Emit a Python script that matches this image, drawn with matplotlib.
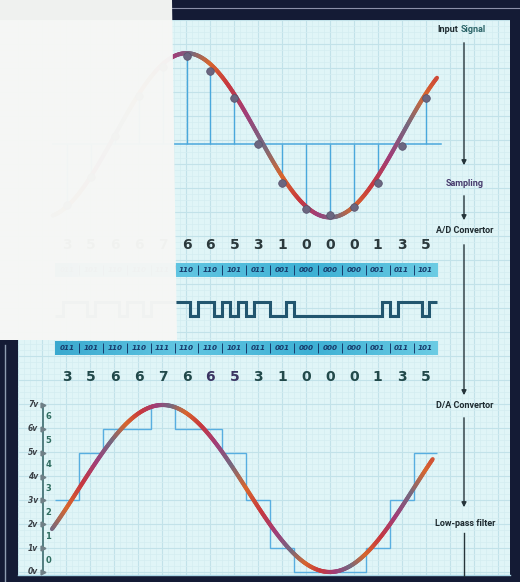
import numpy as np
import matplotlib.pyplot as plt
from matplotlib.collections import LineCollection
from matplotlib.colors import LinearSegmentedColormap
from matplotlib.patches import Polygon

W, H = 520, 582

# sample index 0..15, quantised codes (same row shown at A/D and D/A)
SAMPLE_IDX = np.arange(16)
CODES = [3, 5, 6, 6, 7, 6, 6, 5, 3, 1, 0, 0, 0, 1, 3, 5]
# input samples in volts (first five sit under the white card)
TOP_SAMPLES = [0.4, 1.6, 3.3, 5.0, 6.2, 6.7, 6.05, 4.9, 3.0, 1.35, 0.25, 0.0, 0.34, 1.35, 2.9, 4.9]
# input sine: mid level, amplitude, period (samples), trough position
TOP_MID, TOP_AMP, TOP_PERIOD, TOP_TROUGH = 3.35, 3.45, 12.0, 11.0
# reconstructed sine after low-pass filter
OUT_MID, OUT_AMP, OUT_PERIOD, OUT_PEAK = 3.5, 3.5, 14.0, 4.0
VOLT_LABELS = ['0v', '1v', '2v', '3v', '4v', '5v', '6v', '7v']
STAGES = ['Input Signal', 'Sampling', 'A/D Convertor', 'D/A Convertor', 'Low-pass filter']

NAVY = '#141b35'
BG = '#e0f5f7'
INK = '#1f2b30'
CURVE_CMAP = LinearSegmentedColormap.from_list(
    'ink', ['#d8662e', '#c8383e', '#a13d78', '#75687f', '#d8662e'])
BAR_CMAP = LinearSegmentedColormap.from_list('bar', ['#3aa9cf', '#62c6e2', '#3db0d4', '#6ccce4'])

# horizontal layout: sample 0 at x=67 px, 23.9 px per sample
X0, DX = 67, 23.9
XLIM = ((8 - X0) / DX, (510 - X0) / DX)

fig = plt.figure(figsize=(W / 100, H / 100), dpi=100, facecolor=NAVY)


def px_axes(top, bottom, left=8, right=510):
    ax = fig.add_axes([left / W, 1 - bottom / H, (right - left) / W, (bottom - top) / H])
    ax.set_axis_off()
    ax.patch.set_alpha(0)
    return ax


def gradient_line(ax, x, y, lw=3.0, cycle=3.0):
    pts = np.column_stack([x, y]).reshape(-1, 1, 2)
    segs = np.concatenate([pts[:-1], pts[1:]], axis=1)
    lc = LineCollection(segs, cmap=CURVE_CMAP, linewidth=lw, capstyle='round', zorder=4)
    lc.set_array((x[:-1] / cycle) % 1.0)
    lc.set_clim(0, 1)
    ax.add_collection(lc)


# background: cyan graph paper inside a navy frame
bg = px_axes(0, H, 0, W)
bg.set_xlim(0, W)
bg.set_ylim(H, 0)
paper = Polygon([(0, 20), (510, 20), (510, 576), (18, 576), (18, 340), (0, 340)],
                closed=True, facecolor=BG, edgecolor='none', zorder=0)
bg.add_patch(paper)
for gx in np.arange(18, 510, 6):
    major = (gx - 18) % 24 == 0
    ln, = bg.plot([gx, gx], [20, 576], color='#c2e2e9' if major else '#d4edf1',
                  lw=0.8 if major else 0.5, zorder=1)
    ln.set_clip_path(paper)
for gy in np.arange(20, 576, 6):
    major = (gy - 20) % 24 == 0
    ln, = bg.plot([0, 510], [gy, gy], color='#c2e2e9' if major else '#d4edf1',
                  lw=0.8 if major else 0.5, zorder=1)
    ln.set_clip_path(paper)
bg.plot([172, 520], [8, 8], color='#8b90a8', lw=0.8, zorder=2)
bg.plot([5, 5], [345, 582], color='#8e9cb0', lw=1.0, zorder=2)
bg.plot([18, 510], [575, 575], color='#a9d6e6', lw=1.0, zorder=2)

# top panel: input signal and sampling
top = px_axes(20, 232)
top.set_xlim(*XLIM)
top.set_ylim(-(232 - 215) / 23.8, (215 - 20) / 23.8)
top.plot([-0.6, 15.65], [3, 3], color='#4aa8dc', lw=1.1, zorder=2)
top.vlines(SAMPLE_IDX, 3, TOP_SAMPLES, color='#4aa8dc', lw=1.0, zorder=2)
xt = np.linspace(-0.6, 15.48, 400)
yt = TOP_MID - TOP_AMP * np.cos(2 * np.pi * (xt - TOP_TROUGH) / TOP_PERIOD)
gradient_line(top, xt, yt)
top.plot(SAMPLE_IDX, TOP_SAMPLES, 'o', ms=5.5, color='#6b6680', mec='#55506a', mew=0.5, zorder=5)

# middle: codes, binary words and serial pulse train
mid = px_axes(232, 390)
mid.set_xlim(*XLIM)
words = [f'{c:03b}' for c in CODES]
for i, c in zip(SAMPLE_IDX, CODES):
    mid.text(i, 245, str(c), ha='center', va='center', fontsize=10, fontweight='bold', color='#2b393c')
    mid.text(i, 377, str(c), ha='center', va='center', fontsize=10, fontweight='bold',
             color='#3b3462' if i in (6, 7) else '#22494a')

for yc in (270, 348):
    mid.imshow(np.linspace(0, 1, 256)[None, :], extent=(-0.5, 15.5, yc + 7, yc - 7),
               cmap=BAR_CMAP, aspect='auto', zorder=2)
    for i, w in zip(SAMPLE_IDX, words):
        mid.text(i, yc, w, ha='center', va='center', fontsize=5.2, fontweight='bold',
                 style='italic', color='#173c6c', zorder=3)
    mid.vlines(np.arange(0.5, 15.5), yc - 5, yc + 5, color='#173c6c', lw=0.7, zorder=3)

bits = [int(b) for w in words for b in w]
edges = -0.5 + np.arange(len(bits) + 1) / 3.0
levels = np.where(np.array(bits) == 1, 302, 316)
mid.stairs(levels, edges, baseline=None, color='#22566f', lw=2.2, zorder=3)
mid.set_ylim(390, 232)
mid.set_xlim(*XLIM)

# bottom panel: D/A staircase and low-pass output
bot = px_axes(390, 577)
bot.set_xlim(*XLIM)
bot.set_ylim(-(577 - 572) / 23.86, (572 - 390) / 23.86)
bot.stairs(CODES, np.arange(-0.5, 16), baseline=None, color='#58aee0', lw=1.0, zorder=2)
xo = np.linspace(-0.63, 15.3, 400)
yo = OUT_MID + OUT_AMP * np.cos(2 * np.pi * (xo - OUT_PEAK) / OUT_PERIOD)
gradient_line(bot, xo, yo, cycle=2.5)
bot.plot([-1.0, -1.0], [0, 7], color='#3d6c6e', lw=1.2, zorder=3)
for v, lab in enumerate(VOLT_LABELS):
    bot.plot(-1.0, v, '>', ms=3.5, color='#6f7f86', zorder=4)
    bot.text(-1.2, v, lab, ha='right', va='center', fontsize=5.5, fontweight='bold',
             style='italic', color='#3a3f45')
for n in range(7):
    bot.text(-0.78, n + 0.5, str(n), ha='center', va='center', fontsize=6, fontweight='bold',
             color='#2f6d60')

# white card covering the top-left corner
over = px_axes(0, H, 0, W)
over.set_xlim(0, W)
over.set_ylim(H, 0)
over.add_patch(Polygon([(0, 0), (172, 0), (177, 340), (0, 340)], closed=True,
                       facecolor='#f6f7f5', edgecolor='none', alpha=0.975))

# stage labels with arrows down the right side
label_y = [29, 183, 231, 406, 523]
colors = [INK, '#463a6c', INK, INK, INK]
for name, y, col in zip(STAGES, label_y, colors):
    if name == 'Input Signal':
        fig.text(458 / W, 1 - y / H, 'Input', ha='right', va='center', fontsize=6.5,
                 fontweight='bold', color=INK, family='Roboto')
        fig.text(461 / W, 1 - y / H, 'Signal', ha='left', va='center', fontsize=6.5,
                 fontweight='bold', color='#2b6468', family='Roboto')
    else:
        fig.text(465 / W, 1 - y / H, name, ha='center', va='center', fontsize=6.5,
                 fontweight='bold', color=col, family='Roboto')

arrow_runs = [(40, 168), (193, 223), (242, 398), (415, 510)]
for y0, y1 in arrow_runs:
    over.annotate('', xy=(464, y1), xytext=(464, y0),
                  arrowprops=dict(arrowstyle='-|>', color='#25343a', lw=1.0, mutation_scale=7))
over.plot([464, 464], [533, 576], color='#25343a', lw=1.0)

fig.savefig('out.png', dpi=100, facecolor=NAVY)
